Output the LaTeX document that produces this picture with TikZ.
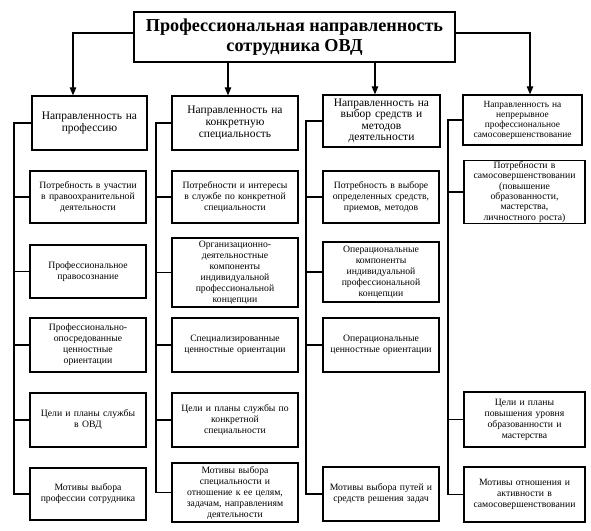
\documentclass[tikz,border=0pt]{standalone}
\usepackage{fontspec}
\setmainfont{Liberation Serif}
\usetikzlibrary{arrows.meta}
\begin{document}
\begin{tikzpicture}[x=1pt,y=-1pt,
  box/.style={draw, line width=1.3pt, align=center, inner sep=1pt, font=\fontsize{9.7}{11}\selectfont},
  hbox/.style={box, font=\fontsize{11.5}{12.2}\selectfont},
  hsmall/.style={box, font=\fontsize{9.4}{10}\selectfont},
  ttl/.style={draw, line width=1.5pt, align=center, inner sep=1pt, minimum width=321pt, minimum height=50pt, font=\bfseries\fontsize{18.2}{20.5}\selectfont},
  conn/.style={line width=1.1pt},
  arr/.style={line width=1.1pt, -{Triangle[length=8pt,width=6.5pt]}}]
\useasboundingbox (0,0) rectangle (591,530);

\node[ttl] (t) at (294.5,37) {Профессиональная направленность\\сотрудника ОВД};

\node[hbox, minimum width=115pt, minimum height=54pt, text width=111pt] (h1) at (89.5,123) {Направленность на\\профессию};
\node[hbox, minimum width=126pt, minimum height=54pt, text width=122pt] (h2) at (235,123) {Направленность на\\конкретную\\специальность};
\node[hbox, font=\fontsize{11.5}{11.5}\selectfont, minimum width=117pt, minimum height=52pt, text width=113pt] (h3) at (381.5,121) {Направленность на\\выбор средств и\\методов\\деятельности};
\node[hsmall, minimum width=119pt, minimum height=50pt, text width=115pt] (h4) at (522.5,120) {Направленность на\\непрерывное\\профессиональное\\самосовершенствование};

% column 1
\node[box, minimum width=116pt, minimum height=52pt, text width=112pt] (c1a) at (88,197) {Потребность в участии\\в правоохранительной\\деятельности};
\node[box, minimum width=116pt, minimum height=53pt, text width=112pt] (c1b) at (88,271.5) {Профессиональное\\правосознание};
\node[box, minimum width=116pt, minimum height=54pt, text width=112pt] (c1c) at (88,345) {Профессионально-\\опосредованные\\ценностные\\ориентации};
\node[box, minimum width=116pt, minimum height=54pt, text width=112pt] (c1d) at (88,420) {Цели и планы службы\\в ОВД};
\node[box, minimum width=116pt, minimum height=52pt, text width=112pt] (c1e) at (88,494) {Мотивы выбора\\профессии сотрудника};

% column 2
\node[box, minimum width=126pt, minimum height=52pt, text width=122pt] (c2a) at (235,197) {Потребности и интересы\\в службе по конкретной\\специальности};
\node[box, minimum width=126pt, minimum height=69pt, text width=122pt] (c2b) at (235,272.5) {Организационно-\\деятельностные\\компоненты\\индивидуальной\\профессиональной\\концепции};
\node[box, minimum width=126pt, minimum height=54pt, text width=122pt] (c2c) at (235,345) {Специализированные\\ценностные ориентации};
\node[box, minimum width=126pt, minimum height=54pt, text width=122pt] (c2d) at (235,420) {Цели и планы службы по\\конкретной\\специальности};
\node[box, minimum width=126pt, minimum height=59pt, text width=122pt] (c2e) at (235,492.5) {Мотивы выбора\\специальности и\\отношение к ее целям,\\задачам, направлениям\\деятельности};

% column 3
\node[box, minimum width=116pt, minimum height=52pt, text width=112pt] (c3a) at (381,197) {Потребность в выборе\\определенных средств,\\приемов, методов};
\node[box, minimum width=116pt, minimum height=60pt, text width=112pt] (c3b) at (381,272) {Операциональные\\компоненты\\индивидуальной\\профессиональной\\концепции};
\node[box, minimum width=116pt, minimum height=54pt, text width=112pt] (c3c) at (381,345) {Операциональные\\ценностные ориентации};
\node[box, minimum width=116pt, minimum height=54pt, text width=112pt] (c3d) at (381,494) {Мотивы выбора путей и\\средств решения задач};

% column 4
\node[box, font=\fontsize{9.7}{10.3}\selectfont, minimum width=121pt, minimum height=62pt, text width=117pt] (c4a) at (524.5,192) {Потребности в\\самосовершенствовании\\(повышение\\образованности,\\мастерства,\\личностного роста)};
\node[box, minimum width=121pt, minimum height=55pt, text width=117pt] (c4b) at (524.5,419.5) {Цели и планы\\повышения уровня\\образованности и\\мастерства};
\node[box, minimum width=121pt, minimum height=55pt, text width=117pt] (c4c) at (524.5,494.5) {Мотивы отношения и\\активности в\\самосовершенствовании};

% spine and arrow coordinates
\coordinate (s1) at (14,0);
\coordinate (s2) at (156,0);
\coordinate (s3) at (306,0);
\coordinate (s4) at (448,0);
\coordinate (a1) at (73,0);
\coordinate (a2) at (228,0);
\coordinate (a3) at (375,0);
\coordinate (a4) at (530,0);

% arrows from title
\draw[arr] ([yshift=4pt]t.west) -| (h1.north -| a1);
\draw[arr] ([yshift=4pt]t.east) -| (h4.north -| a4);
\draw[arr] (t.south -| a2) -- (h2.north -| a2);
\draw[arr] (t.south -| a3) -- (h3.north -| a3);

% spines
\draw[conn] (h1.west) -- (h1.west -| s1) |- (c1e.west);
\foreach \n in {c1a,c1b,c1c,c1d} \draw[conn] (\n.west) -- (\n.west -| s1);
\draw[conn] (h2.west) -- (h2.west -| s2) |- (c2e.west);
\foreach \n in {c2a,c2b,c2c,c2d} \draw[conn] (\n.west) -- (\n.west -| s2);
\draw[conn] (h3.west) -- (h3.west -| s3) |- (c3d.west);
\foreach \n in {c3a,c3b,c3c} \draw[conn] (\n.west) -- (\n.west -| s3);
\draw[conn] (h4.west) -- (h4.west -| s4) |- (c4c.west);
\foreach \n in {c4a,c4b} \draw[conn] (\n.west) -- (\n.west -| s4);
\end{tikzpicture}
\end{document}
